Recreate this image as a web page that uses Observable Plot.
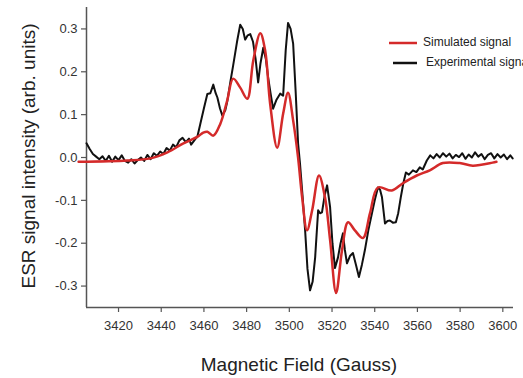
<!DOCTYPE html>
<html>
<head>
<meta charset="utf-8">
<script src="https://cdn.jsdelivr.net/npm/d3@7"></script>
<script src="https://cdn.jsdelivr.net/npm/@observablehq/plot@0.6"></script>
<style>
  html, body { margin: 0; padding: 0; background: #fff; }
  #chart { width: 523px; height: 378px; overflow: hidden; }
</style>
</head>
<body>
<div id="chart"></div>
<script>
const fieldExp = [3405.0,3406.5,3408.0,3409.5,3411.0,3412.5,3414.0,3415.5,3417.0,3418.5,3420.0,3421.5,3423.0,3424.5,3426.0,3427.5,3429.0,3430.5,3432.0,3433.5,3435.0,3436.5,3438.0,3439.5,3441.0,3442.5,3444.0,3445.5,3447.0,3448.5,3450.0,3451.5,3453.0,3454.0,3455.5,3457.0,3458.3,3460.0,3461.6,3463.0,3464.4,3465.5,3466.3,3467.5,3468.6,3470.0,3470.9,3472.5,3473.7,3475.5,3477.0,3478.2,3479.3,3480.5,3481.7,3483.0,3484.2,3485.4,3486.5,3487.8,3489.0,3490.1,3491.2,3492.4,3494.0,3495.7,3497.1,3498.3,3499.4,3500.6,3501.8,3503.0,3504.1,3505.0,3506.2,3507.4,3508.5,3509.7,3510.9,3512.1,3513.5,3514.4,3515.3,3516.5,3517.7,3519.1,3520.2,3521.4,3522.8,3524.0,3525.1,3526.0,3527.0,3528.4,3529.8,3531.2,3532.6,3534.0,3535.4,3537.0,3538.7,3540.0,3541.5,3542.5,3543.4,3544.8,3546.0,3547.1,3548.5,3549.9,3551.0,3552.2,3553.4,3554.6,3556.0,3557.9,3559.5,3561.1,3562.5,3564.4,3566.0,3567.5,3569.0,3570.5,3572.0,3573.5,3575.0,3576.5,3578.0,3579.5,3581.0,3582.5,3584.0,3585.5,3587.0,3588.5,3590.0,3591.5,3593.0,3594.5,3596.0,3597.5,3599.0,3600.5,3602.0,3603.5,3604.6];
const signalExp = [0.033,0.020,0.008,0.002,-0.004,0.003,-0.008,0.004,-0.010,0.002,-0.006,0.005,-0.008,-0.012,-0.004,-0.014,-0.006,0.000,-0.008,0.006,-0.004,0.010,0.004,0.014,0.008,0.022,0.016,0.030,0.024,0.040,0.046,0.036,0.044,0.030,0.040,0.050,0.078,0.115,0.148,0.150,0.170,0.150,0.140,0.115,0.098,0.110,0.130,0.180,0.215,0.270,0.310,0.300,0.275,0.285,0.288,0.270,0.230,0.175,0.220,0.256,0.230,0.186,0.150,0.114,0.135,0.149,0.144,0.250,0.314,0.300,0.265,0.150,0.033,-0.014,-0.090,-0.170,-0.260,-0.310,-0.290,-0.233,-0.123,-0.130,-0.128,-0.090,-0.065,-0.116,-0.200,-0.258,-0.233,-0.200,-0.177,-0.215,-0.247,-0.230,-0.223,-0.250,-0.279,-0.250,-0.216,-0.170,-0.130,-0.100,-0.070,-0.075,-0.093,-0.154,-0.148,-0.147,-0.152,-0.151,-0.130,-0.093,-0.060,-0.035,-0.040,-0.030,-0.034,-0.023,-0.028,-0.007,0.005,-0.002,0.008,0.000,0.010,0.002,0.009,-0.002,0.006,0.001,0.010,-0.003,0.007,0.000,0.012,0.002,0.008,-0.004,0.006,0.010,-0.002,0.008,0.000,0.007,-0.004,0.005,-0.002];

const fieldSim = [3401.3,3424.2,3435.0,3442.9,3450.4,3456.9,3459.7,3461.6,3464.4,3467.7,3470.9,3473.7,3477.0,3480.3,3483.1,3486.4,3488.7,3491.0,3494.3,3497.1,3499.4,3501.8,3504.1,3506.0,3508.3,3510.7,3513.9,3516.7,3519.1,3521.9,3524.7,3527.5,3530.7,3534.5,3537.8,3541.5,3548.0,3553.2,3559.7,3565.8,3571.9,3579.8,3585.9,3595.2,3597.0];
const signalSim = [-0.010,-0.007,-0.002,0.012,0.033,0.048,0.058,0.060,0.051,0.079,0.133,0.184,0.163,0.137,0.226,0.290,0.249,0.126,0.023,0.102,0.151,0.086,0.000,-0.093,-0.170,-0.123,-0.042,-0.093,-0.193,-0.316,-0.216,-0.151,-0.170,-0.188,-0.130,-0.070,-0.077,-0.060,-0.042,-0.030,-0.013,-0.013,-0.019,-0.012,-0.010];

const xTicks = [3420,3440,3460,3480,3500,3520,3540,3560,3580,3600];
const yTicks = [-0.3,-0.2,-0.1,0.0,0.1,0.2,0.3];
const seriesNames = ["Simulated signal", "Experimental signal"];
const seriesColors = ["#d42a2a", "#111111"];

const expData = fieldExp.map((f, i) => ({field: f, signal: signalExp[i]}));
const simData = fieldSim.map((f, i) => ({field: f, signal: signalSim[i]}));

const font = "'Liberation Sans', Arial, sans-serif";
const axisColor = "#555";
const yFmt = d => d3.format(".1f")(d).replace("\u2212", "-");

const plot = Plot.plot({
  width: 523,
  height: 378,
  marginLeft: 86,
  marginRight: 10,
  marginTop: 7,
  marginBottom: 71,
  style: {fontFamily: font, fontSize: "13px", color: "#333", background: "#fff"},
  x: {domain: [3405, 3605], label: null},
  y: {domain: [-0.35, 0.35], label: null},
  marks: [
    Plot.axisX({ticks: xTicks, tickFormat: d => String(d), tickSize: 5, tickPadding: 8, stroke: axisColor, strokeWidth: 1.2, label: null, fontSize: 13}),
    Plot.axisY({ticks: yTicks, tickFormat: yFmt, tickSize: 5, tickPadding: 4, stroke: axisColor, strokeWidth: 1.2, label: null, fontSize: 13}),
    Plot.ruleX([3405], {stroke: axisColor, strokeWidth: 1.5}),
    Plot.ruleY([-0.35], {stroke: axisColor, strokeWidth: 1.5}),
    Plot.line(expData, {x: "field", y: "signal", stroke: seriesColors[1], strokeWidth: 2}),
    Plot.line(simData, {x: "field", y: "signal", stroke: seriesColors[0], strokeWidth: 2.5, curve: "catmull-rom"})
  ]
});

const svg = d3.select(plot);
// axis titles
svg.append("text")
  .attr("x", 299).attr("y", 366)
  .attr("text-anchor", "middle").attr("dominant-baseline", "middle")
  .attr("font-family", font).attr("font-size", 19).attr("fill", "#222")
  .text("Magnetic Field (Gauss)");
svg.append("text")
  .attr("transform", "translate(30,156) rotate(-90)")
  .attr("text-anchor", "middle").attr("dominant-baseline", "middle")
  .attr("font-family", font).attr("font-size", 19).attr("fill", "#222")
  .text("ESR signal intensity (arb. units)");
// legend
const legend = [
  {x1: 389, x2: 417, y: 43, tx: 423, w: 2.5},
  {x1: 393, x2: 417, y: 63, tx: 426, w: 2.5}
];
legend.forEach((l, i) => {
  svg.append("line").attr("x1", l.x1).attr("x2", l.x2).attr("y1", l.y).attr("y2", l.y)
    .attr("stroke", seriesColors[i]).attr("stroke-width", l.w);
  svg.append("text").attr("x", l.tx).attr("y", l.y)
    .attr("text-anchor", "start")
    .attr("dominant-baseline", "middle")
    .attr("font-family", font).attr("font-size", 12).attr("fill", "#222")
    .text(seriesNames[i]);
});
document.getElementById("chart").appendChild(plot);
</script>
</body>
</html>
